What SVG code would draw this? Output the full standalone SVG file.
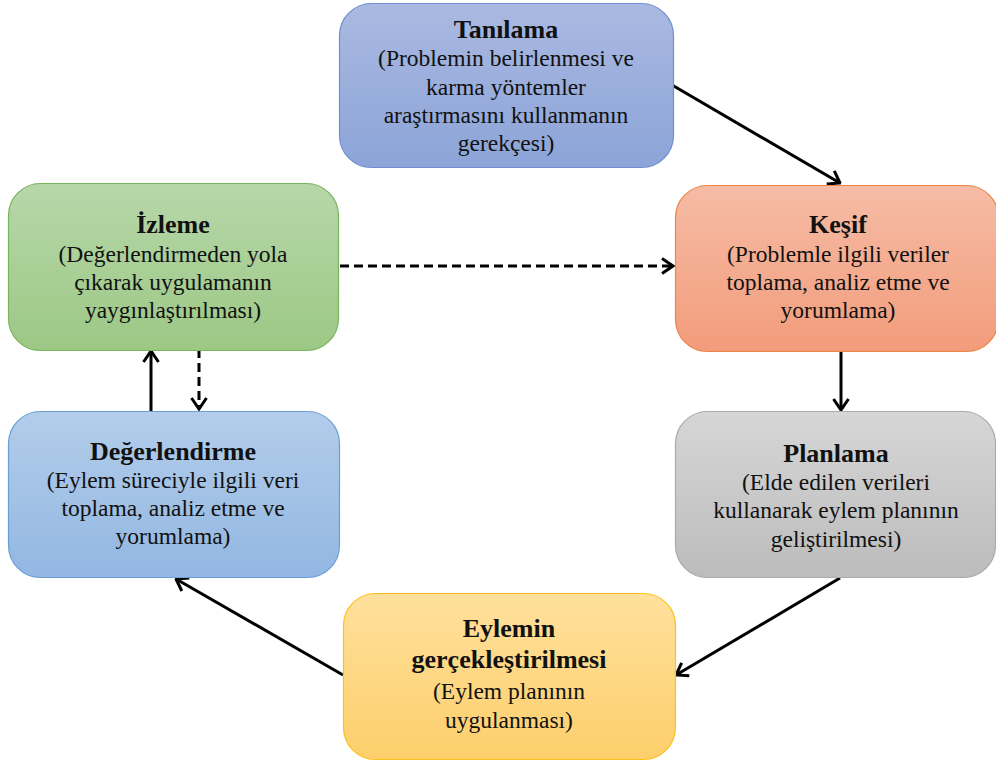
<svg xmlns="http://www.w3.org/2000/svg" width="996" height="762" viewBox="0 0 996 762">
<defs>
<linearGradient id="gBlue" x1="0" y1="0" x2="0" y2="1"><stop offset="0" stop-color="#aab9e1"/><stop offset="1" stop-color="#8ca4d8"/></linearGradient>
<linearGradient id="gOrange" x1="0" y1="0" x2="0" y2="1"><stop offset="0" stop-color="#f6bca6"/><stop offset="1" stop-color="#f29c7b"/></linearGradient>
<linearGradient id="gGreen" x1="0" y1="0" x2="0" y2="1"><stop offset="0" stop-color="#b7d7a9"/><stop offset="1" stop-color="#9cc885"/></linearGradient>
<linearGradient id="gLBlue" x1="0" y1="0" x2="0" y2="1"><stop offset="0" stop-color="#b3cdea"/><stop offset="1" stop-color="#92b7e2"/></linearGradient>
<linearGradient id="gGray" x1="0" y1="0" x2="0" y2="1"><stop offset="0" stop-color="#d6d6d6"/><stop offset="1" stop-color="#bcbcbc"/></linearGradient>
<linearGradient id="gYellow" x1="0" y1="0" x2="0" y2="1"><stop offset="0" stop-color="#ffe09c"/><stop offset="1" stop-color="#fdcf6c"/></linearGradient>
<marker id="arr" viewBox="0 0 14 18" refX="12.5" refY="9" markerWidth="14" markerHeight="18" markerUnits="userSpaceOnUse" orient="auto">
<path d="M1.5,1.5 L12.5,9 L1.5,16.5" fill="none" stroke="#000" stroke-width="3"/>
</marker>
<style>
text{font-size:23.5px;fill:#111;text-anchor:middle}
.t{font-weight:bold;font-size:26px}
.c{fill:none;stroke:#000;stroke-width:3}
.d{stroke-dasharray:9 5}
</style>
</defs>
<g id="connectors">
<line class="c" x1="672" y1="85" x2="840" y2="183" marker-end="url(#arr)"/>
<line class="c d" x1="340" y1="266" x2="673" y2="266" marker-end="url(#arr)"/>
<line class="c" x1="841" y1="352" x2="841" y2="410" marker-end="url(#arr)"/>
<line class="c" x1="840" y1="578" x2="676" y2="675" marker-end="url(#arr)"/>
<line class="c" x1="343" y1="675" x2="176" y2="579" marker-end="url(#arr)"/>
<line class="c" x1="151" y1="411" x2="151" y2="351" marker-end="url(#arr)"/>
<line class="c d" x1="199" y1="349" x2="199" y2="409" marker-end="url(#arr)"/>
</g>
<g font-family="Liberation Serif, Times New Roman, serif">
<g id="tanilama">
<rect x="339.5" y="3.5" width="334" height="164" rx="32" fill="url(#gBlue)" stroke="#6f8fd2" stroke-width="1.2"/>
<text class="t" x="506" y="38">Tanılama</text>
<text x="506" y="66">(Problemin belirlenmesi ve</text>
<text x="506" y="95">karma yöntemler</text>
<text x="506" y="123">araştırmasını kullanmanın</text>
<text x="506" y="151">gerekçesi)</text>
</g>
<g id="kesif">
<rect x="675.5" y="185.5" width="323" height="166" rx="32" fill="url(#gOrange)" stroke="#ee8447" stroke-width="1.2"/>
<text class="t" x="838" y="233">Keşif</text>
<text x="838" y="262">(Problemle ilgili veriler</text>
<text x="838" y="290">toplama, analiz etme ve</text>
<text x="838" y="318">yorumlama)</text>
</g>
<g id="izleme">
<rect x="8.5" y="183.5" width="330" height="167" rx="32" fill="url(#gGreen)" stroke="#7ab45a" stroke-width="1.2"/>
<text class="t" x="173" y="233">İzleme</text>
<text x="173" y="262">(Değerlendirmeden yola</text>
<text x="173" y="290">çıkarak uygulamanın</text>
<text x="173" y="318">yaygınlaştırılması)</text>
</g>
<g id="degerlendirme">
<rect x="8.5" y="411.5" width="331" height="166" rx="32" fill="url(#gLBlue)" stroke="#6a9fd6" stroke-width="1.2"/>
<text class="t" x="173" y="460">Değerlendirme</text>
<text x="173" y="488">(Eylem süreciyle ilgili veri</text>
<text x="173" y="516">toplama, analiz etme ve</text>
<text x="173" y="544">yorumlama)</text>
</g>
<g id="planlama">
<rect x="675.5" y="411.5" width="320" height="166" rx="32" fill="url(#gGray)" stroke="#ababab" stroke-width="1.2"/>
<text class="t" x="836" y="462">Planlama</text>
<text x="836" y="490">(Elde edilen verileri</text>
<text x="836" y="518">kullanarak eylem planının</text>
<text x="836" y="547">geliştirilmesi)</text>
</g>
<g id="eylemin">
<rect x="343.5" y="593.5" width="332" height="166" rx="32" fill="url(#gYellow)" stroke="#fcc21c" stroke-width="1.2"/>
<text class="t" x="509" y="637">Eylemin</text>
<text class="t" x="509" y="668">gerçekleştirilmesi</text>
<text x="509" y="699">(Eylem planının</text>
<text x="509" y="728">uygulanması)</text>
</g>
</g>
</svg>
